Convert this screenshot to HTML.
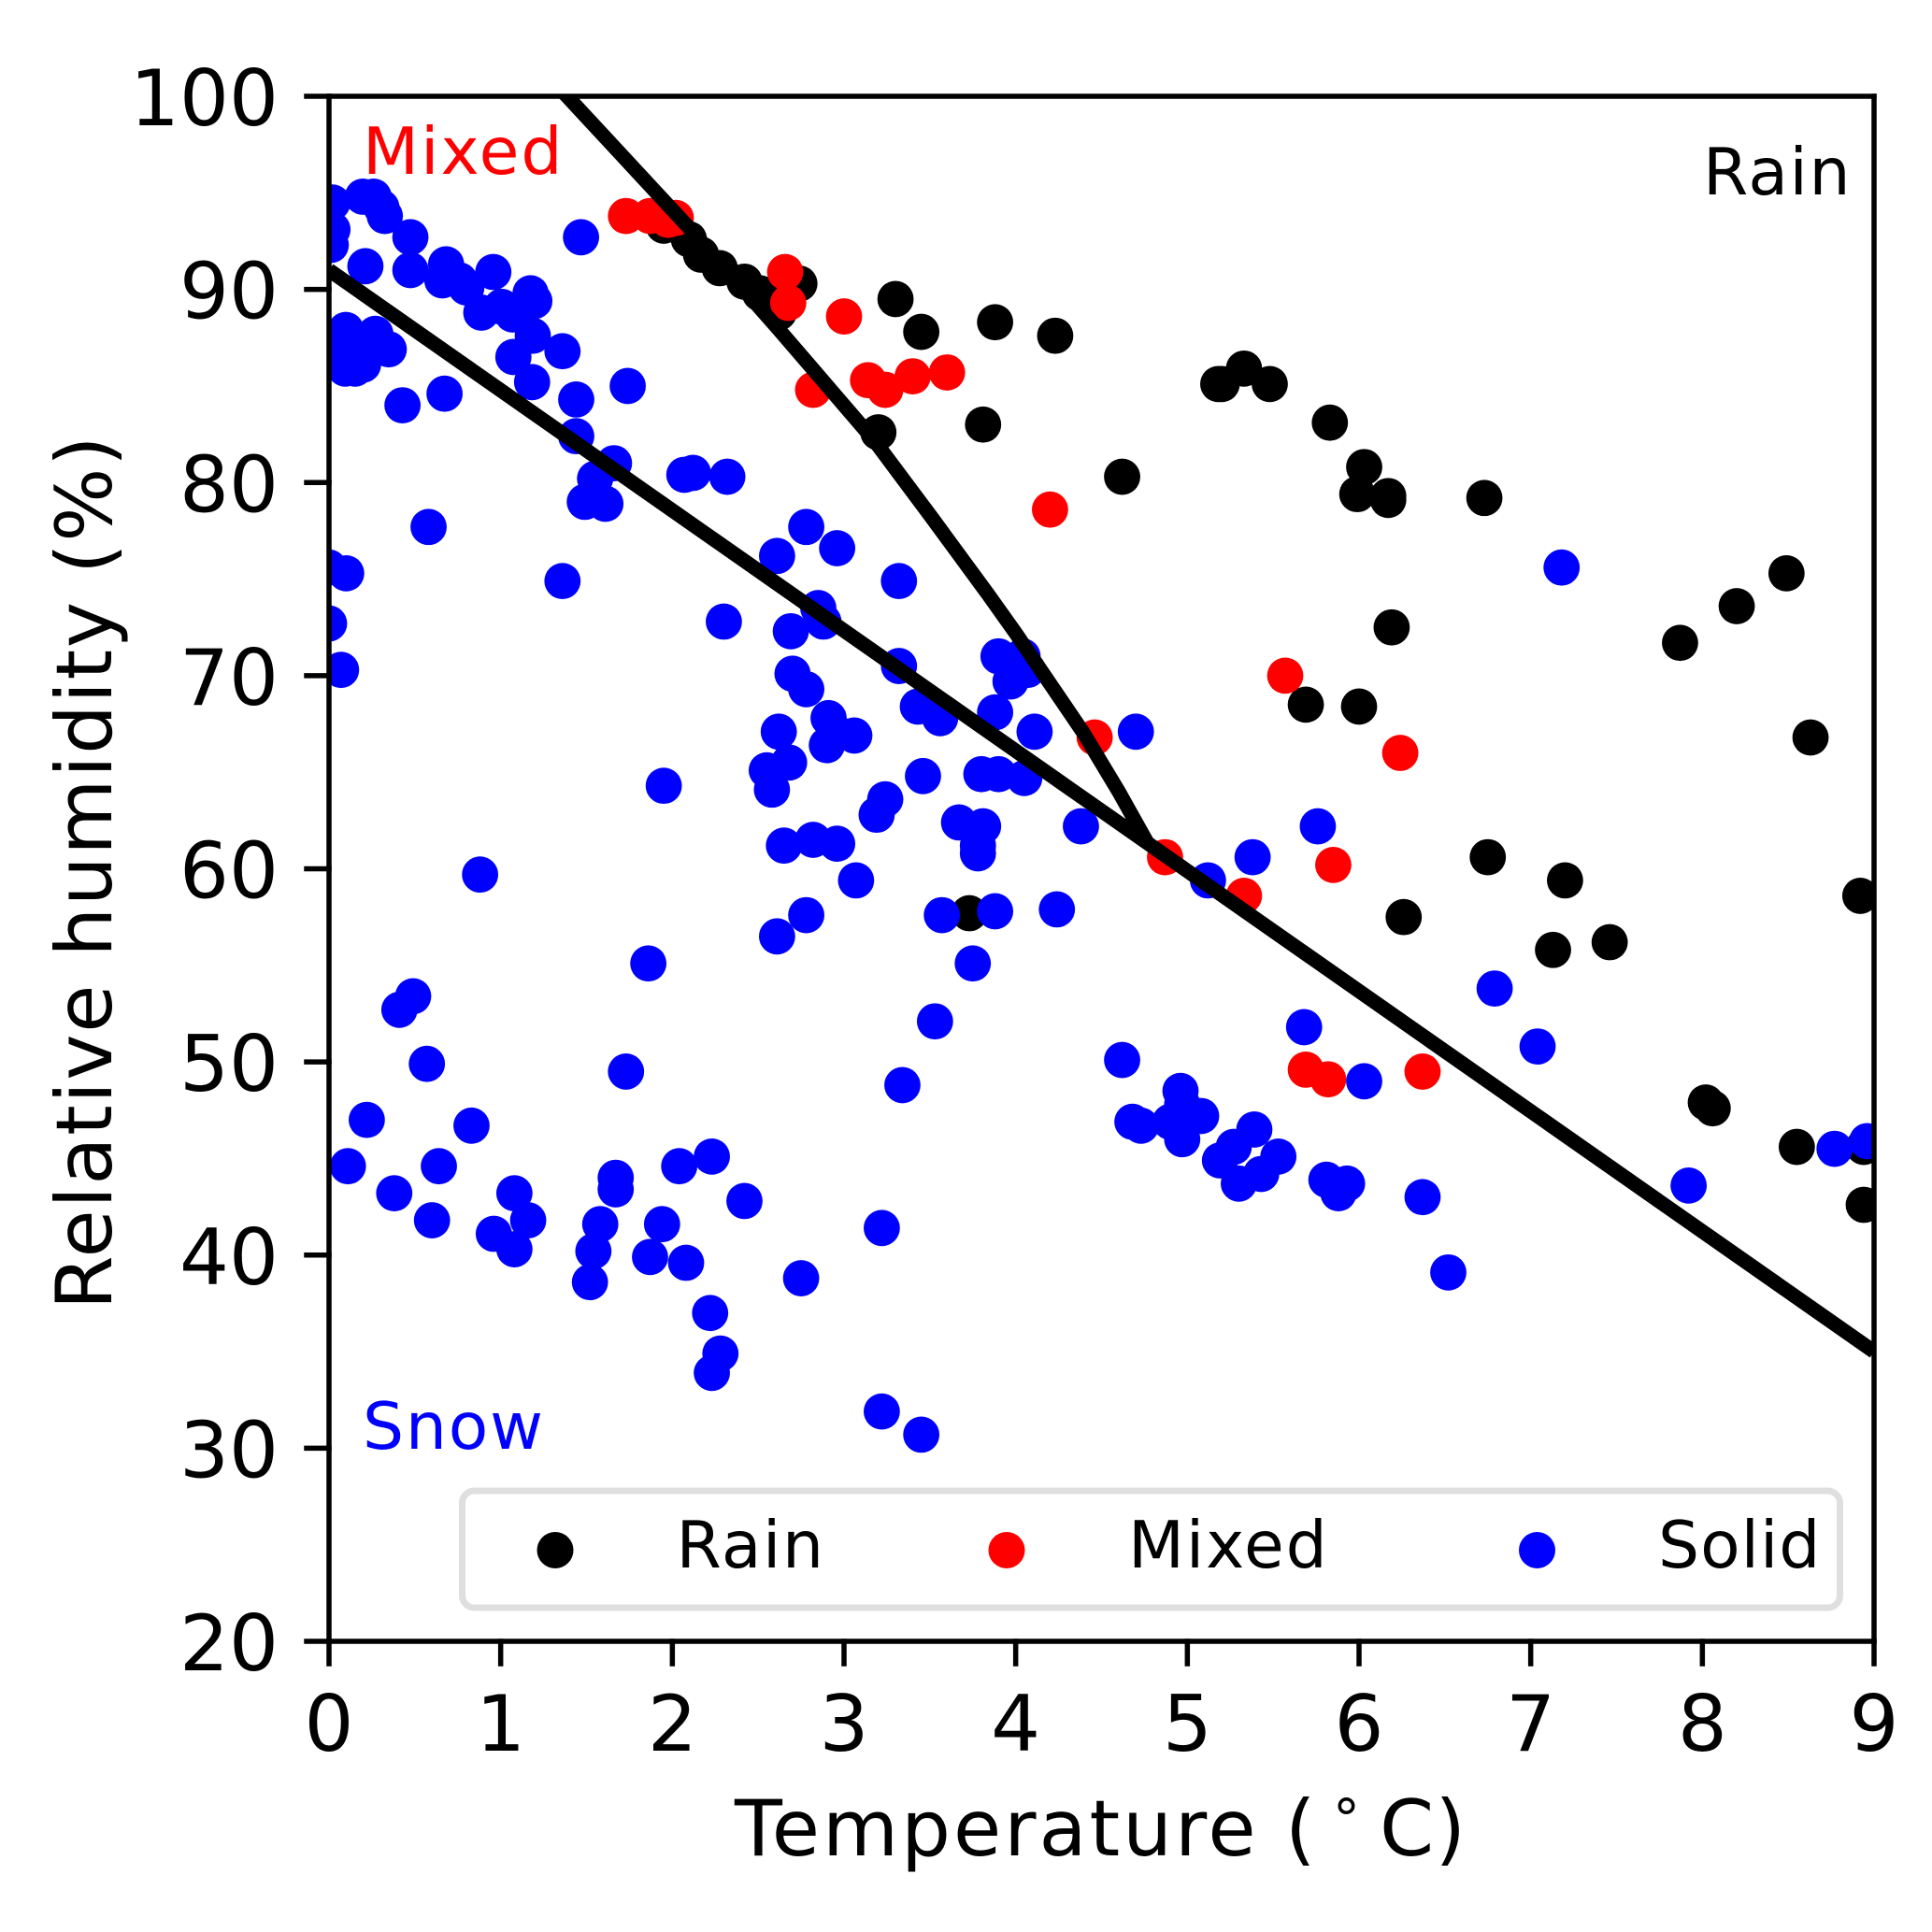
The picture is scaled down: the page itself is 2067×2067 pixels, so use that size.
<!DOCTYPE html>
<html lang="en">
<head>
<meta charset="utf-8">
<title>Relative humidity vs temperature</title>
<style>
html,body{margin:0;padding:0;background:#fff;width:2067px;height:2067px;overflow:hidden}
svg{display:block}
text{font-family:"DejaVu Sans","Liberation Sans",sans-serif}
</style>
</head>
<body>
<svg id="chart" xmlns="http://www.w3.org/2000/svg" width="2067" height="2067" viewBox="0 0 2067 2067">
  <rect x="0" y="0" width="2067" height="2067" fill="#fff"/>
  <defs><clipPath id="plot-clip"><rect x="352" y="103" width="1653" height="1653"/></clipPath></defs>
  <g id="rain-points" clip-path="url(#plot-clip)"></g>
  <g id="mixed-points" clip-path="url(#plot-clip)"></g>
  <g id="solid-points" clip-path="url(#plot-clip)"></g>
  <g id="boundaries" clip-path="url(#plot-clip)"></g>
  <text x="388" y="186" font-size="69.5" letter-spacing="2.1" fill="#f00">Mixed</text>
  <text x="1822" y="208" font-size="69.5" letter-spacing="1.6" fill="#000">Rain</text>
  <text x="388" y="1550" font-size="69.5" letter-spacing="1.8" fill="#00f">Snow</text>
  <g>
    <rect x="494.5" y="1595" width="1474" height="125" rx="13" ry="13" fill="#fff" fill-opacity="0.8" stroke="#dfdfdf" stroke-width="7"/>
    <circle cx="594" cy="1658.5" r="19.5" fill="#000"/>
    <text x="723.5" y="1677" font-size="69.5" letter-spacing="1.6">Rain</text>
    <circle cx="1077" cy="1658.5" r="19.5" fill="#f00"/>
    <text x="1207" y="1677" font-size="69.5" letter-spacing="1.9">Mixed</text>
    <circle cx="1644.5" cy="1658.5" r="19.5" fill="#00f"/>
    <text x="1774" y="1677" font-size="69.5" letter-spacing="1">Solid</text>
  </g>
  <g id="axes"></g>
  <text y="1985" font-size="83.3"><tspan x="786" letter-spacing="3">Temperature</tspan><tspan x="1375">(</tspan><tspan x="1426" y="1966" font-size="58">°</tspan><tspan x="1476" y="1985">C</tspan><tspan x="1535.5">)</tspan></text>
  <text transform="translate(119,933) rotate(-90)" x="0" y="0" font-size="83.3" letter-spacing="1.7" text-anchor="middle">Relative humidity (%)</text>
</svg>
<script>
const xTickLabels = [0, 1, 2, 3, 4, 5, 6, 7, 8, 9];
const yTickLabels = [20, 30, 40, 50, 60, 70, 80, 90, 100];

const rainTemp = [1.95,2.096,2.167,2.276,2.42,2.51,2.62,2.74,3.30,3.45,3.88,4.23,3.20,3.81,4.62,5.18,5.20,5.33,5.48,5.83,6.03,5.99,6.17,6.17,6.73,8.49,8.20,7.87,6.19,5.69,6.00,8.63,6.75,7.20,6.26,7.13,7.46,8.92,3.73,8.02,8.06,8.55,8.94,8.94];
const rainHumidity = [93.3,92.6,91.8,91.1,90.4,89.8,88.8,90.3,89.5,87.8,88.3,87.6,82.6,83.0,80.3,85.1,85.1,85.9,85.1,83.1,80.8,79.4,79.1,79.3,79.2,75.3,73.6,71.7,72.5,68.5,68.4,66.8,60.6,59.4,57.5,55.8,56.2,58.6,57.7,47.9,47.6,45.6,45.6,42.6];

const mixedTemp = [1.73,1.87,1.976,2.02,2.657,2.675,3.00,3.14,3.24,3.40,3.60,2.82,4.20,4.46,5.57,6.24,4.87,5.33,5.85,5.69,5.82,6.37];
const mixedHumidity = [93.8,93.8,93.6,93.7,90.9,89.3,88.6,85.3,84.8,85.5,85.7,84.8,78.6,66.8,70.0,66.0,60.6,58.6,60.2,49.6,49.1,49.5];

const solidTemp = [0.02,0.02,0.01,0.197,0.26,0.305,0.325,0.212,0.474,0.474,0.682,0.66,0.76,0.80,0.957,0.887,1.005,1.07,1.174,1.196,1.187,1.074,1.183,1.36,
  0.098,0.094,0.152,0.198,0.11,0.27,0.348,0.04,0.20,0.428,0.673,0.58,1.44,1.44,1.74,1.468,1.55,1.66,1.49,1.61,1.36,2.07,2.12,2.32,
  0,0.10,0,0.07,2.30,2.61,2.78,2.96,3.32,2.85,2.88,2.69,2.70,2.78,3.32,3.90,4.04,3.97,4.07,3.88,4.11,4.70,
  3.43,3.56,2.91,2.96,3.06,2.90,2.62,2.68,2.55,2.58,1.95,3.46,3.80,3.90,4.05,4.38,3.24,3.19,3.67,3.81,3.78,3.78,
  2.65,2.82,2.96,3.07,0.88,2.61,2.78,3.57,3.88,4.24,5.12,5.38,5.76,1.86,3.75,3.53,3.34,7.18,6.79,7.04,5.68,6.03,
  4.62,4.68,4.73,4.90,4.96,4.97,4.97,5.08,5.19,5.27,5.30,5.39,5.43,5.53,5.81,5.88,5.93,6.37,6.52,7.92,8.77,8.96,
  0.49,0.41,0.57,1.73,0.22,0.11,0.83,0.64,0.38,0.60,1.08,1.16,0.96,1.08,1.67,1.67,1.58,1.54,1.52,1.94,1.87,2.08,2.04,2.23,2.42,2.75,3.22,2.22,2.28,2.23,3.22,3.45];
const solidHumidity = [94.5,93.1,92.3,94.8,94.8,94.25,93.8,91.2,92.7,91.0,91.3,90.47,90.47,90.1,90.9,88.8,89.1,88.7,89.8,89.4,87.6,86.5,85.2,86.8,
  87.9,85.9,85.9,86.1,87.1,87.7,86.9,86.8,87.0,84.0,84.6,77.7,84.3,82.4,85.0,92.7,80.2,81.0,79.0,78.9,74.9,80.4,80.5,80.3,
  75.6,75.3,72.7,70.3,72.8,76.2,77.7,76.6,74.9,73.5,72.8,72.3,70.1,69.3,70.5,71.0,71.0,69.7,70.3,68.1,67.1,67.1,
  68.4,67.8,67.8,67.0,66.9,66.4,67.1,65.5,65.1,64.1,64.3,64.8,64.9,64.9,64.7,62.2,63.6,62.8,62.4,62.2,61.2,60.8,
  61.2,61.5,61.3,59.4,59.7,56.5,57.6,57.6,57.8,57.9,59.4,60.6,62.2,55.1,55.1,52.1,48.8,75.6,53.8,50.8,51.8,49.0,
  50.1,46.9,46.7,46.9,48.5,47.8,46.0,47.2,44.9,45.6,43.7,46.5,44.2,45.1,43.9,43.2,43.7,43.0,39.1,43.6,45.5,45.9,
  53.4,52.7,49.9,49.5,47.0,44.6,46.7,44.6,43.2,41.8,43.2,41.8,41.1,40.3,44.0,43.4,41.6,40.2,38.6,41.6,39.9,39.6,44.6,45.1,42.8,38.8,41.4,37.0,34.9,33.9,31.9,30.7];

const snowLineTemp = [0, 9];
const snowLineHumidity = [91, 35];
const rainLineTemp = [1.345, 2.096, 2.613, 3.174, 3.51, 3.84, 4.0, 4.39, 4.60, 4.77];
const rainLineHumidity = [100.4, 93.2, 88.0, 82.2, 78.2, 74.2, 72.2, 67.1, 64.0, 61.3];

const SVG_NS = 'http://www.w3.org/2000/svg';
const plotLeft = 352, plotRight = 2005, plotTop = 103, plotBottom = 1756;
const xMin = 0, xMax = 9, yMin = 20, yMax = 100;
function xScale(v) { return plotLeft + (v - xMin) / (xMax - xMin) * (plotRight - plotLeft); }
function yScale(v) { return plotBottom - (v - yMin) / (yMax - yMin) * (plotBottom - plotTop); }

function drawPoints(groupId, temps, hums, color, name) {
  const g = document.getElementById(groupId);
  temps.forEach(function (t, i) {
    const c = document.createElementNS(SVG_NS, 'circle');
    c.setAttribute('cx', xScale(t));
    c.setAttribute('cy', yScale(hums[i]));
    c.setAttribute('r', 19.4);
    c.setAttribute('fill', color);
    
    
    g.appendChild(c);
  });
}
drawPoints('rain-points', rainTemp, rainHumidity, '#000', 'rain-point');
drawPoints('mixed-points', mixedTemp, mixedHumidity, '#f00', 'mixed-point');
drawPoints('solid-points', solidTemp, solidHumidity, '#00f', 'solid-point');

function drawLine(temps, hums, name) {
  const p = document.createElementNS(SVG_NS, 'polyline');
  p.setAttribute('points', temps.map(function (t, i) { return xScale(t) + ',' + yScale(hums[i]); }).join(' '));
  p.setAttribute('fill', 'none');
  p.setAttribute('stroke', '#000');
  p.setAttribute('stroke-width', 15.5);
  p.setAttribute('stroke-linejoin', 'round');
  
  
  document.getElementById('boundaries').appendChild(p);
}
drawLine(snowLineTemp, snowLineHumidity, 'snow-boundary-line');
drawLine(rainLineTemp, rainLineHumidity, 'rain-boundary-line');

const axes = document.getElementById('axes');
function addSeg(x1, y1, x2, y2, name) {
  const l = document.createElementNS(SVG_NS, 'line');
  l.setAttribute('x1', x1);
  l.setAttribute('y1', y1);
  l.setAttribute('x2', x2);
  l.setAttribute('y2', y2);
  l.setAttribute('stroke', '#000');
  l.setAttribute('stroke-width', 5.5);
  l.setAttribute('stroke-linecap', 'square');
  
  
  axes.appendChild(l);
}
function addLabel(x, y, str, anchor, name) {
  const t = document.createElementNS(SVG_NS, 'text');
  t.setAttribute('x', x);
  t.setAttribute('y', y);
  t.setAttribute('font-size', 83.3);
  t.setAttribute('text-anchor', anchor);
  
  
  t.textContent = str;
  axes.appendChild(t);
}
addSeg(plotLeft, plotTop, plotLeft, plotBottom, 'left-spine');
addSeg(plotRight, plotTop, plotRight, plotBottom, 'right-spine');
addSeg(plotLeft, plotTop, plotRight, plotTop, 'top-spine');
addSeg(plotLeft, plotBottom, plotRight, plotBottom, 'bottom-spine');
xTickLabels.forEach(function (v) {
  const x = xScale(v);
  addSeg(x, plotBottom, x, plotBottom + 24, 'x-tick');
  addLabel(x, 1873, String(v), 'middle', 'x-tick-label');
});
yTickLabels.forEach(function (v) {
  const y = yScale(v);
  addSeg(plotLeft, y, plotLeft - 24, y, 'y-tick');
  addLabel(298, y + 31, String(v), 'end', 'y-tick-label');
});
</script>
</body>
</html>
